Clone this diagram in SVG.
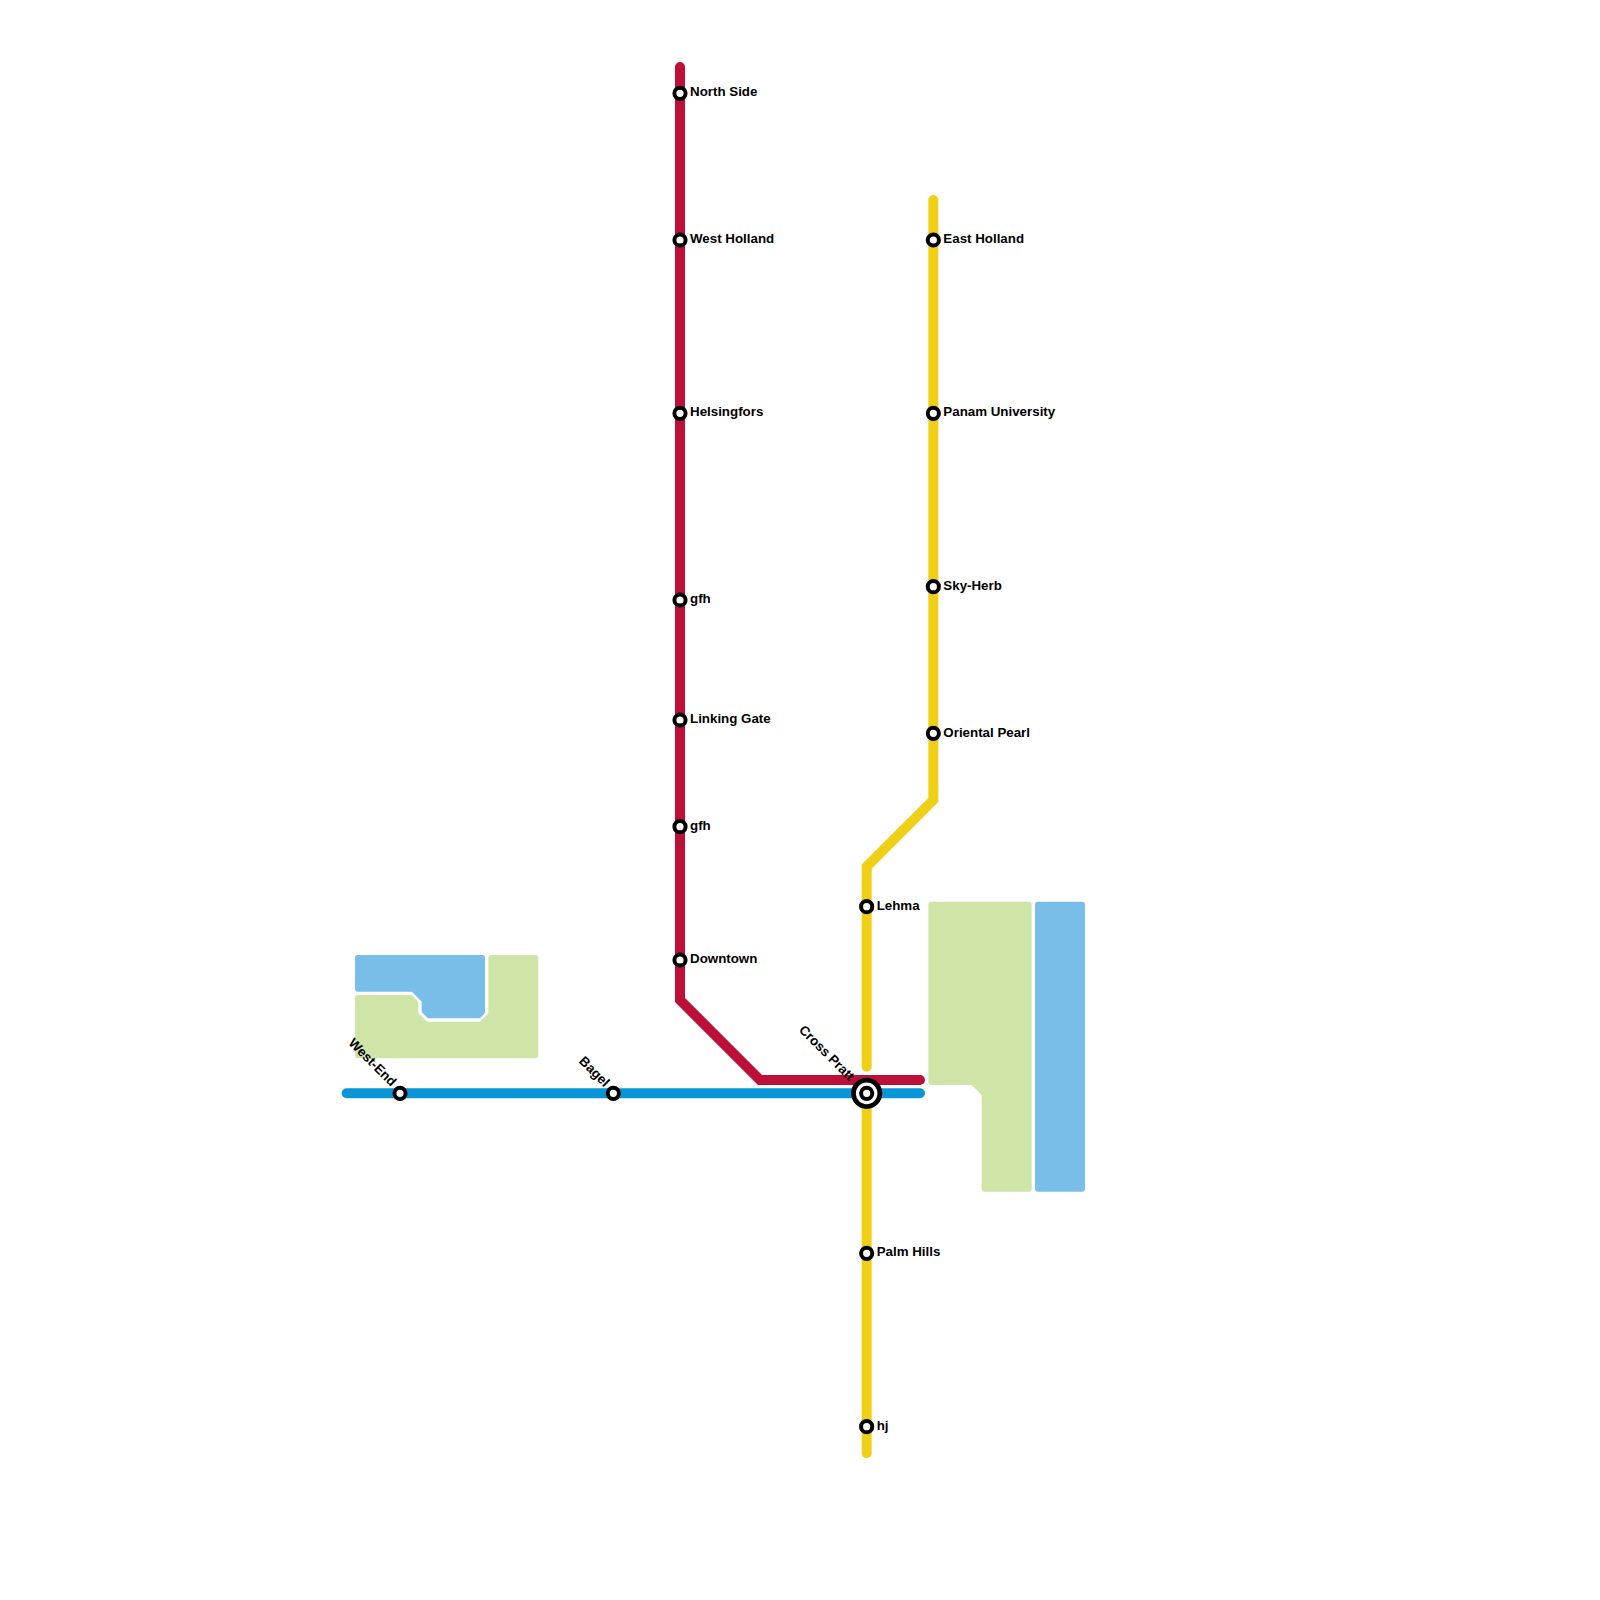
<svg xmlns="http://www.w3.org/2000/svg" width="1600" height="1600" viewBox="0 0 1600 1600">
<style>
.area{stroke-width:6;stroke-linejoin:round}
.green{fill:#cfe4a7;stroke:#cfe4a7}
.water{fill:#79bde9;stroke:#79bde9}
.line{fill:none;stroke-width:10;stroke-linecap:round;stroke-linejoin:miter}
.st{fill:#fff;stroke:#000;stroke-width:4}
.ring{fill:#fff;stroke:#000;stroke-width:4.800}
text{font-family:"Liberation Sans",Arial,sans-serif;font-size:13.33px;font-weight:bold;fill:#000}
</style>
<rect width="1600" height="1600" fill="#fff"/>
<g id="areas">
<path class="area green" d="M358 998H410.430L415.330 1002.900V1014.270L425.760 1024.670H481.240L491.330 1014.580V958H535.330V1055.330H358Z"/>
<path class="area water" d="M358 958H482V1011.800L478.500 1015.330H429.240L424.670 1010.760V1000.430L412.910 988.670H358Z"/>
<path class="area green" d="M931.330 904.670H1028.670V1188.670H984.670V1093.760L972.910 1082H931.330Z"/>
<rect class="area water" x="1038" y="904.670" width="44" height="284"/>
</g>
<g id="connectors">
<path class="line" stroke="#bd1038" d="M680 67V1000L760 1080H920"/>
<path class="line" stroke="#0896d7" d="M346.670 1093.330H920"/>
<path class="line" stroke="#f0d016" d="M933.330 200V800L866.670 866.670V1066.670"/>
<path class="line" stroke="#f0d016" d="M866.670 1093.330V1453.330"/>
</g>
<g id="st-north-side"><circle class="st" cx="680" cy="93.330" r="5.600"/><text x="690" y="96.300">North Side</text></g>
<g id="st-west-holland"><circle class="st" cx="680" cy="240" r="5.600"/><text x="690" y="243.300">West Holland</text></g>
<g id="st-helsingfors"><circle class="st" cx="680" cy="413.330" r="5.600"/><text x="690" y="416.300">Helsingfors</text></g>
<g id="st-gfh-1"><circle class="st" cx="680" cy="600" r="5.600"/><text x="690" y="603.300">gfh</text></g>
<g id="st-linking-gate"><circle class="st" cx="680" cy="720" r="5.600"/><text x="690" y="723.300">Linking Gate</text></g>
<g id="st-gfh-2"><circle class="st" cx="680" cy="826.670" r="5.600"/><text x="690" y="830">gfh</text></g>
<g id="st-downtown"><circle class="st" cx="680" cy="960" r="5.600"/><text x="690" y="963.300">Downtown</text></g>
<g id="st-east-holland"><circle class="st" cx="933.330" cy="240" r="5.600"/><text x="943.330" y="243.300">East Holland</text></g>
<g id="st-panam-university"><circle class="st" cx="933.330" cy="413.330" r="5.600"/><text x="943.330" y="416.300">Panam University</text></g>
<g id="st-sky-herb"><circle class="st" cx="933.330" cy="586.670" r="5.600"/><text x="943.330" y="590">Sky-Herb</text></g>
<g id="st-oriental-pearl"><circle class="st" cx="933.330" cy="733.330" r="5.600"/><text x="943.330" y="736.700">Oriental Pearl</text></g>
<g id="st-lehma"><circle class="st" cx="866.670" cy="906.670" r="5.600"/><text x="876.670" y="910">Lehma</text></g>
<g id="st-palm-hills"><circle class="st" cx="866.670" cy="1253.330" r="5.600"/><text x="876.670" y="1256.300">Palm Hills</text></g>
<g id="st-hj"><circle class="st" cx="866.670" cy="1426.670" r="5.600"/><text x="876.670" y="1430">hj</text></g>
<g id="st-west-end"><circle class="st" cx="400" cy="1093.330" r="5.600"/><text transform="translate(391 1087) rotate(45)" text-anchor="end">West-End</text></g>
<g id="st-bagel"><circle class="st" cx="613.330" cy="1093.330" r="5.600"/><text transform="translate(604 1087.500) rotate(45)" text-anchor="end">Bagel</text></g>
<g id="st-cross-pratt"><circle class="ring" cx="866.670" cy="1093.330" r="13.200"/><circle class="st" cx="866.670" cy="1093.330" r="5.600"/><text transform="translate(849 1081.500) rotate(45)" text-anchor="end">Cross Pratt</text></g>
</svg>
